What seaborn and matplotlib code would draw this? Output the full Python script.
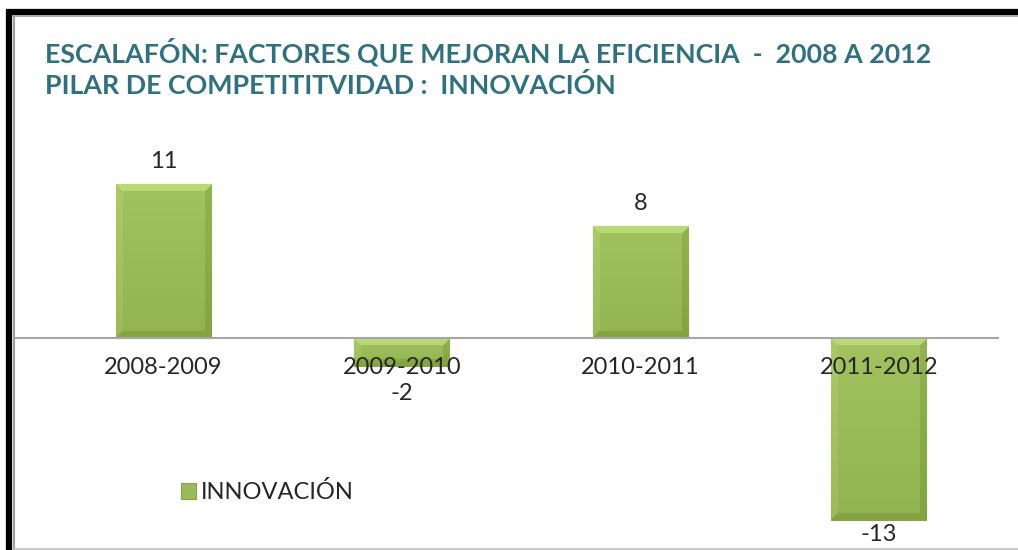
import numpy as np
import matplotlib
matplotlib.use("Agg")
import matplotlib.pyplot as plt
import matplotlib.colors as mcolors
import seaborn as sns
from matplotlib.lines import Line2D

# data
periods = ["2008-2009", "2009-2010", "2010-2011", "2011-2012"]
values = [11, -2, 8, -13]
series_name = "INNOVACIÓN"
title_lines = ["ESCALAFÓN: FACTORES QUE MEJORAN LA EFICIENCIA  -  2008 A 2012",
               "PILAR DE COMPETITITVIDAD :  INNOVACIÓN"]

GREEN = "#9BBB59"
TEAL = "#31707F"
TEXT = "#262626"

sns.set_theme(style="white")
plt.rcParams["font.family"] = ["Lato", "DejaVu Sans"]

W, H = 1018, 550
fig = plt.figure(figsize=(W / 100, H / 100), dpi=100)
ax = fig.add_axes([14 / W, 1 - 540 / H, (998 - 14) / W, (540 - 130) / H])

sns.barplot(x=periods, y=values, color=GREEN, width=0.4, saturation=1,
            label=series_name, ax=ax)

ax.set_xlim(-0.626, 3.5)
ax.set_ylim(-14.43, 14.86)

# zero line carries the category labels, like the Excel axis
for s in ["left", "right", "top"]:
    ax.spines[s].set_visible(False)
ax.spines["bottom"].set_position(("data", 0))
ax.spines["bottom"].set_color("#A6A6A6")
ax.spines["bottom"].set_linewidth(1.5)
ax.set_yticks([])
ax.set_xlabel("")
ax.tick_params(axis="x", length=0, labelsize=17, pad=14, labelcolor=TEXT)
ax.set_axisbelow(False)


# bevel look for each bar
def bevel(patch):
    x0, y0, x1, y1 = patch.get_bbox().extents
    (px0, py0), (px1, py1) = ax.transData.transform([(x0, y0), (x1, y1)])
    w = max(int(round(abs(px1 - px0))), 2)
    h = max(int(round(abs(py1 - py0))), 2)
    base = np.array(mcolors.to_rgb(GREEN))
    img = np.tile(base, (h, w, 1))
    grad = np.linspace(0.03, -0.03, h)[:, None, None]
    img = img + grad
    b = 7
    yy, xx = np.mgrid[0:h, 0:w]
    top = (yy < b) & (yy <= xx) & (yy <= w - 1 - xx)
    bottom = (yy >= h - b) & (h - 1 - yy <= xx) & (h - 1 - yy <= w - 1 - xx)
    left = (xx < b) & ~top & ~bottom
    right = (xx >= w - b) & ~top & ~bottom
    img[top] += 0.09
    img[bottom] -= 0.06
    img[left] += 0.03
    img[right] -= 0.06
    img = np.clip(img, 0, 1)
    im = ax.imshow(img, extent=[x0, x1, min(y0, y1), max(y0, y1)], aspect="auto",
                   zorder=patch.get_zorder() + 0.01, interpolation="bilinear")
    im.set_clip_path(patch)
    patch.set_edgecolor("#86A24E")
    patch.set_linewidth(0.8)


for p in list(ax.patches):
    bevel(p)

ax.set_xlim(-0.626, 3.5)
ax.set_ylim(-14.43, 14.86)

bars = ax.containers[0]
ax.bar_label(bars, labels=[str(values[0]), "", str(values[2]), ""],
             padding=9, fontsize=17, color=TEXT, zorder=5)
ax.bar_label(bars, labels=["", str(values[1]), "", ""],
             padding=12, fontsize=17, color=TEXT, zorder=5)
ax.bar_label(bars, labels=["", "", "", str(values[3])],
             padding=3, fontsize=17, color=TEXT, zorder=5)

ax.legend(loc="center left", bbox_to_anchor=(181 / W, 1 - 492 / H),
          bbox_transform=fig.transFigure, frameon=False, fontsize=17,
          handlelength=0.65, handleheight=0.65, handletextpad=0.2,
          borderpad=0, borderaxespad=0, labelcolor=TEXT)

fig.text(45 / W, 1 - 52 / H, title_lines[0], va="center", ha="left",
         fontsize=19.3, fontweight="bold", color=TEAL)
fig.text(45 / W, 1 - 86 / H, title_lines[1], va="center", ha="left",
         fontsize=19.3, fontweight="bold", color=TEAL)

# picture frame
fig.add_artist(Line2D([6 / W, 1], [1 - 12 / H] * 2, color="black", lw=4.5,
                      solid_capstyle="butt", transform=fig.transFigure))
fig.add_artist(Line2D([9 / W] * 2, [0, 1 - 9 / H], color="black", lw=4.5,
                      solid_capstyle="butt", transform=fig.transFigure))
fig.add_artist(Line2D([12 / W, 1], [1 - 16 / H] * 2, color="#A0A0A0", lw=1.2,
                      solid_capstyle="butt", transform=fig.transFigure))
fig.add_artist(Line2D([13.5 / W] * 2, [0, 1 - 16 / H], color="#A0A0A0", lw=1.5,
                      solid_capstyle="butt", transform=fig.transFigure))
fig.add_artist(Line2D([14 / W, 1], [1 - 549 / H] * 2, color="#C0C0C0", lw=1.2,
                      solid_capstyle="butt", transform=fig.transFigure))

fig.savefig("out.png", dpi=100)
